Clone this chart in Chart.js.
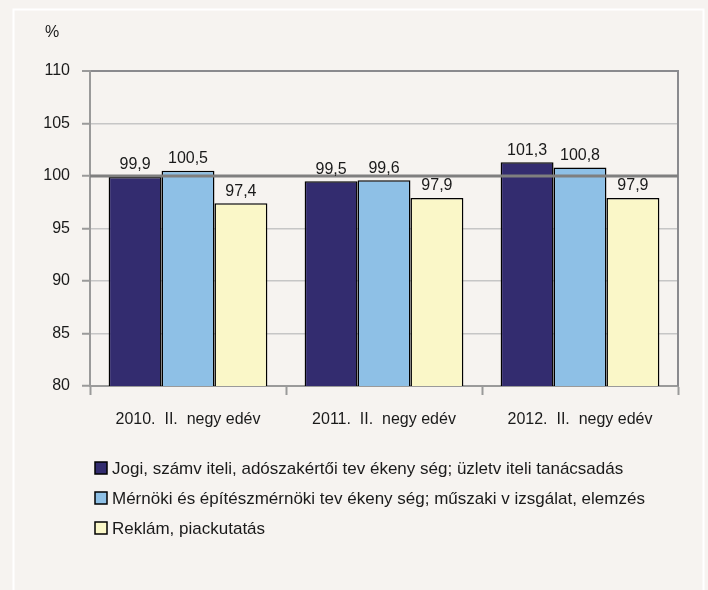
<!DOCTYPE html>
<html>
<head>
<meta charset="utf-8">
<script src="https://cdn.jsdelivr.net/npm/chart.js@4.4.1/dist/chart.umd.min.js"></script>
<style>
  html, body { margin: 0; padding: 0; background: #f6f3f0; }
  canvas { display: block; }
</style>
</head>
<body>
<canvas id="chart" width="708" height="590"></canvas>
<script>
// categories and series
const CATEGORIES = ['2010.  II.  negy edév', '2011.  II.  negy edév', '2012.  II.  negy edév'];
const SERIES_NAMES = [
    'Jogi, számv iteli, adószakértői tev ékeny ség; üzletv iteli tanácsadás',
    'Mérnöki és építészmérnöki tev ékeny ség; műszaki v izsgálat, elemzés',
    'Reklám, piackutatás'
];
const JOGI = [99.9, 99.5, 101.3];
const MERNOKI = [100.5, 99.6, 100.8];
const REKLAM = [97.4, 97.9, 97.9];
const COLORS = ['#332c6f', '#8ec0e6', '#faf7c8'];

const FONT = '"Liberation Sans", Arial, sans-serif';
const TEXT = '#1a1a1a';

// background, frame, 100 line, value labels, legend
const decorations = {
    id: 'decorations',
    beforeDraw(chart) {
        const c = chart.ctx;
        c.save();
        c.fillStyle = '#f6f3f0';
        c.fillRect(0, 0, chart.width, chart.height);
        c.strokeStyle = '#ffffff';
        c.lineWidth = 2;
        c.strokeRect(13.5, 9.5, 690, 620);
        c.restore();
    },
    afterDatasetsDraw(chart) {
        const c = chart.ctx;
        const a = chart.chartArea;
        const y = chart.scales.y;
        c.save();
        // right border of plot
        c.strokeStyle = '#8a8a8e';
        c.lineWidth = 2;
        c.beginPath();
        c.moveTo(a.right, a.top - 1);
        c.lineTo(a.right, a.bottom);
        c.stroke();
        // reference line at 100
        const y100 = y.getPixelForValue(100);
        c.strokeStyle = '#7f7f7f';
        c.lineWidth = 3;
        c.beginPath();
        c.moveTo(a.left, y100);
        c.lineTo(a.right, y100);
        c.stroke();

        // value labels
        c.font = '16px ' + FONT;
        c.fillStyle = TEXT;
        c.textAlign = 'center';
        c.textBaseline = 'bottom';
        chart.data.datasets.forEach((ds, i) => {
            chart.getDatasetMeta(i).data.forEach((bar, j) => {
                const txt = ds.data[j].toFixed(1).replace('.', ',');
                c.fillText(txt, bar.x, bar.y - 4);
            });
        });

        // "%" unit
        c.textAlign = 'left';
        c.textBaseline = 'middle';
        c.fillText('%', 45, 33);

        // legend
        c.font = '17px ' + FONT;
        chart.data.datasets.forEach((ds, i) => {
            const ly = 468 + 30 * i;
            c.fillStyle = ds.backgroundColor;
            c.fillRect(95, ly - 6, 12, 12);
            c.strokeStyle = '#000';
            c.lineWidth = 1.5;
            c.strokeRect(95, ly - 6, 12, 12);
            c.fillStyle = TEXT;
            c.fillText(ds.label, 112, ly + 1);
        });
        c.restore();
    }
};

const data = {
    labels: CATEGORIES,
    datasets: [
        { label: SERIES_NAMES[0], data: JOGI, backgroundColor: COLORS[0] },
        { label: SERIES_NAMES[1], data: MERNOKI, backgroundColor: COLORS[1] },
        { label: SERIES_NAMES[2], data: REKLAM, backgroundColor: COLORS[2] }
    ].map(d => Object.assign(d, {
        borderColor: '#000000',
        borderWidth: 1.5,
        borderSkipped: 'bottom',
        barPercentage: 1,
        categoryPercentage: 0.81
    }))
};

const config = {
    type: 'bar',
    data: data,
    options: {
        responsive: false,
        animation: false,
        devicePixelRatio: 1,
        layout: { padding: { top: 71, right: 30, left: 0, bottom: 0 } },
        plugins: {
            legend: { display: false },
            tooltip: { enabled: false }
        },
        scales: {
            x: {
                afterFit(scale) { scale.height = 204; },
                border: { color: '#9a9a9a', width: 2 },
                grid: {
                    offset: true,
                    drawOnChartArea: false,
                    tickLength: 9,
                    tickColor: '#9a9a9a',
                    tickWidth: 2,
                    color: '#9a9a9a'
                },
                ticks: {
                    color: TEXT,
                    padding: 15,
                    font: { family: FONT, size: 16 },
                    maxRotation: 0
                }
            },
            y: {
                min: 80,
                max: 110,
                afterFit(scale) { scale.width = 90; },
                border: { color: '#9a9a9a', width: 2 },
                grid: {
                    color: ctx => ctx.tick && ctx.tick.value === 110 ? '#8a8a8e' : '#c6c6c6',
                    lineWidth: ctx => ctx.tick && ctx.tick.value === 110 ? 2 : 1.5,
                    tickLength: 8,
                    tickColor: '#9a9a9a',
                    tickWidth: 2
                },
                ticks: {
                    stepSize: 5,
                    color: TEXT,
                    padding: 12,
                    font: { family: FONT, size: 16 }
                }
            }
        }
    },
    plugins: [decorations]
};

new Chart(document.getElementById('chart').getContext('2d'), config);
</script>
</body>
</html>
